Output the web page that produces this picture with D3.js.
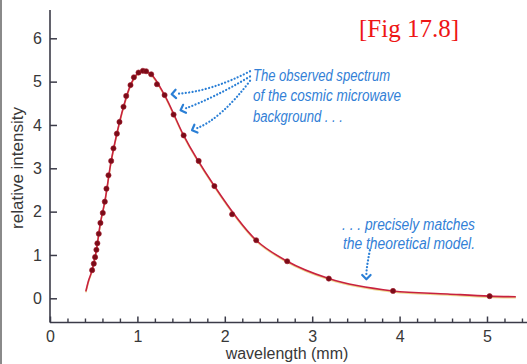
<!DOCTYPE html>
<html>
<head>
<meta charset="utf-8">
<script src="https://cdn.jsdelivr.net/npm/d3@7"></script>
<style>
  html, body { margin: 0; padding: 0; background: #fff; }
  svg { display: block; }
</style>
</head>
<body>
<svg id="chart" width="527" height="364"></svg>
<script>
// ---- data ----
const xTickLabels = [0, 1, 2, 3, 4, 5];
const yTickLabels = [0, 1, 2, 3, 4, 5, 6];

// observed data points (wavelength mm, relative intensity)
const obsWavelength = [0.482, 0.501, 0.516, 0.531, 0.542, 0.558, 0.577, 0.604, 0.627, 0.646, 0.669, 0.700,
  0.726, 0.765, 0.795, 0.841, 0.872, 0.921, 0.960, 1.013, 1.063, 1.100, 1.158, 1.224, 1.311, 1.414,
  1.529, 1.701, 1.881, 2.084, 2.359, 2.714, 3.190, 3.925, 5.030];
const obsIntensity = [0.65, 0.80, 0.95, 1.12, 1.27, 1.49, 1.74, 1.97, 2.23, 2.53, 2.84, 3.17,
  3.46, 3.80, 4.07, 4.42, 4.67, 4.92, 5.10, 5.21, 5.25, 5.24, 5.17, 4.94, 4.69, 4.24,
  3.76, 3.17, 2.59, 1.94, 1.34, 0.855, 0.455, 0.17, 0.05];

// theoretical model curve
const modelWavelength = [0.41, 0.44, 0.482, 0.531, 0.577, 0.627, 0.700, 0.765, 0.841, 0.921, 1.013, 1.063,
  1.158, 1.311, 1.529, 1.881, 2.359, 2.714, 3.190, 3.925, 4.550, 5.030, 5.330];
const modelIntensity = [0.16, 0.40, 0.65, 1.12, 1.74, 2.23, 3.17, 3.80, 4.42, 4.92, 5.21, 5.25,
  5.17, 4.69, 3.76, 2.59, 1.34, 0.855, 0.455, 0.17, 0.10, 0.05, 0.035];

const svg = d3.select("#chart");

// scales
const x = d3.scaleLinear().domain([0, 5.4]).range([50, 50 + 5.4 * 87.4]);
const y = d3.scaleLinear().domain([0, 6]).range([298.3, 38.3]);

const axisColor = "#3b3b48";
const labelColor = "#383838";
const sans = "'Liberation Sans', Arial, sans-serif";

// left border of the scan
svg.append("line").attr("x1", 1).attr("x2", 1).attr("y1", 0).attr("y2", 364)
  .attr("stroke", "#8a8a8a").attr("stroke-width", 2);

// axis lines
svg.append("line").attr("x1", x(0)).attr("x2", x(0)).attr("y1", 10).attr("y2", 322.5)
  .attr("stroke", axisColor).attr("stroke-width", 1.6);
svg.append("line").attr("x1", x(0)).attr("x2", 527).attr("y1", 322.5).attr("y2", 322.5)
  .attr("stroke", axisColor).attr("stroke-width", 1.6);

// y axis ticks + labels
const yAxis = d3.axisLeft(y).tickValues(yTickLabels).tickSize(-7).tickPadding(8).tickFormat(d3.format("d"));
const gy = svg.append("g").attr("transform", `translate(${x(0)},0)`).call(yAxis);
gy.select(".domain").remove();
gy.selectAll(".tick line").attr("stroke", axisColor).attr("stroke-width", 1.5);
gy.selectAll(".tick text").attr("fill", labelColor)
  .style("font-family", sans).style("font-size", "16px");

// x axis minor ticks
const minorVals = d3.range(0, 28).map(i => +(i * 0.2).toFixed(1)).filter(v => Math.abs(v - Math.round(v)) > 1e-6);
const gxm = svg.append("g").attr("transform", "translate(0,322.5)")
  .call(d3.axisBottom(x).tickValues(minorVals).tickSize(-4).tickFormat(""));
gxm.select(".domain").remove();
gxm.selectAll(".tick line").attr("stroke", axisColor).attr("stroke-width", 1.4);

// x axis major ticks + labels
const gx = svg.append("g").attr("transform", "translate(0,322.5)")
  .call(d3.axisBottom(x).tickValues(xTickLabels).tickSize(-6).tickPadding(8).tickFormat(d3.format("d")));
gx.select(".domain").remove();
gx.selectAll(".tick line").attr("stroke", axisColor).attr("stroke-width", 1.5);
gx.selectAll(".tick text").attr("fill", labelColor)
  .style("font-family", sans).style("font-size", "16px");

// axis titles
svg.append("text").attr("x", 287).attr("y", 359).attr("text-anchor", "middle")
  .attr("fill", labelColor).style("font-family", sans).style("font-size", "16px")
  .text("wavelength (mm)");
svg.append("text").attr("transform", "translate(23,168) rotate(-90)").attr("text-anchor", "middle")
  .attr("fill", labelColor).style("font-family", sans).style("font-size", "17px")
  .text("relative intensity");

// model curve
const modelData = modelWavelength.map((w, i) => [w, modelIntensity[i]]);
const line = d3.line().x(d => x(d[0])).y(d => y(d[1])).curve(d3.curveMonotoneX);
svg.append("path").datum(modelData).attr("d", line).attr("fill", "none")
  .attr("stroke", "#e6c760").attr("stroke-width", 1.6).attr("opacity", 0.7)
  .attr("transform", "translate(0,1)");
svg.append("path").datum(modelData).attr("d", line).attr("fill", "none")
  .attr("stroke", "#c8213f").attr("stroke-width", 1.6);

// observed points
const obsData = obsWavelength.map((w, i) => [w, obsIntensity[i]]);
svg.append("g").selectAll("circle").data(obsData).join("circle")
  .attr("cx", d => x(d[0])).attr("cy", d => y(d[1])).attr("r", 2.6)
  .attr("fill", "#7a0c18").attr("stroke", "#a3192b").attr("stroke-width", 0.6);

// annotations
const blue = "#2a7fd6";
const textBlue = "#3280d6";

function addText(str, px, py, len) {
  svg.append("text").attr("x", px).attr("y", py)
    .attr("textLength", len).attr("lengthAdjust", "spacingAndGlyphs")
    .attr("fill", textBlue).style("font-family", sans).style("font-style", "italic")
    .style("font-size", "16px").text(str);
}
addText("The observed spectrum", 253, 81, 137);
addText("of the cosmic microwave", 253, 101, 148);
addText("background . . .", 253, 122, 90);
addText(". . . precisely matches", 342, 230, 133);
addText("the theoretical model.", 343, 249, 132);

// dotted arrows: [start, control, tip] in data units
const arrows = [
  [[2.289, 5.24], [1.841, 4.77], [1.392, 4.71]],
  [[2.289, 5.12], [1.873, 4.62], [1.494, 4.34]],
  [[2.289, 5.02], [1.961, 4.15], [1.625, 3.88]],
  [[3.66, 1.11], [3.62, 0.70], [3.62, 0.44]]
];
arrows.forEach(a => {
  const p0 = [x(a[0][0]), y(a[0][1])], c = [x(a[1][0]), y(a[1][1])], p2 = [x(a[2][0]), y(a[2][1])];
  const dx = p2[0] - c[0], dy = p2[1] - c[1];
  const L = Math.hypot(dx, dy), ux = dx / L, uy = dy / L;
  const end = [p2[0] - ux * 5, p2[1] - uy * 5];
  svg.append("path").attr("d", `M${p0[0]},${p0[1]} Q${c[0]},${c[1]} ${end[0]},${end[1]}`)
    .attr("fill", "none").attr("stroke", blue).attr("stroke-width", 2.2)
    .attr("stroke-linecap", "round").attr("stroke-dasharray", "0.1 3.3");
  const s = 4.2, nx = -uy, ny = ux;
  const back = [p2[0] - ux * s, p2[1] - uy * s];
  svg.append("path")
    .attr("d", `M${back[0] + nx * s},${back[1] + ny * s} L${p2[0]},${p2[1]} L${back[0] - nx * s},${back[1] - ny * s}`)
    .attr("fill", "none").attr("stroke", blue).attr("stroke-width", 2.2)
    .attr("stroke-linecap", "round").attr("stroke-linejoin", "round");
});

// figure label
svg.append("text").attr("x", 359).attr("y", 37).attr("fill", "#ee1515")
  .style("font-family", "'Liberation Serif', 'Times New Roman', serif").style("font-size", "25px")
  .text("[Fig 17.8]");
</script>
</body>
</html>
